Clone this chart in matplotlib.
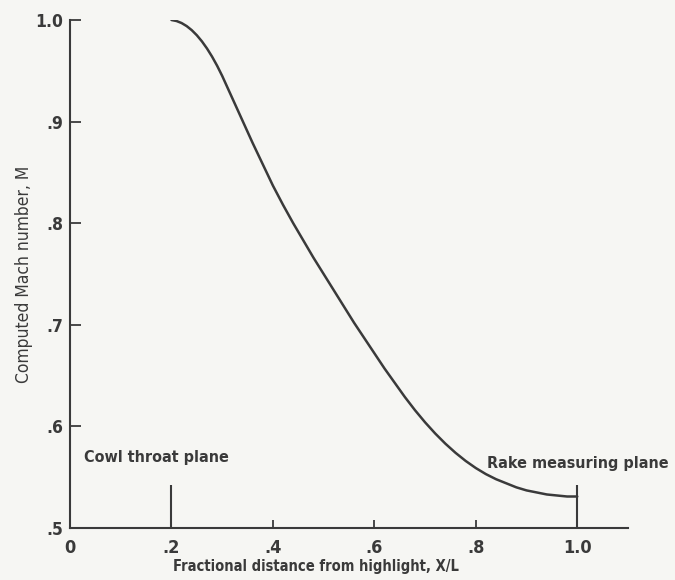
import matplotlib
matplotlib.use('Agg')
import matplotlib.pyplot as plt

# Computed Mach number along the inlet, cowl throat (X/L = .2) to rake plane (X/L = 1.0)
x_over_l = [0.20, 0.21, 0.22, 0.23, 0.24, 0.25, 0.26, 0.27, 0.28, 0.29,
            0.30, 0.32, 0.34, 0.36, 0.38, 0.40, 0.42, 0.44, 0.46, 0.48,
            0.50, 0.52, 0.54, 0.56, 0.58, 0.60, 0.62, 0.64, 0.66, 0.68,
            0.70, 0.72, 0.74, 0.76, 0.78, 0.80, 0.82, 0.84, 0.86, 0.88,
            0.90, 0.92, 0.94, 0.96, 0.98, 1.00]
mach = [1.000, 0.999, 0.997, 0.994, 0.990, 0.985, 0.979, 0.972, 0.964, 0.955,
        0.945, 0.923, 0.901, 0.879, 0.858, 0.837, 0.818, 0.800, 0.783, 0.766,
        0.750, 0.734, 0.718, 0.702, 0.687, 0.672, 0.657, 0.643, 0.629, 0.616,
        0.604, 0.593, 0.583, 0.574, 0.566, 0.559, 0.553, 0.548, 0.544, 0.540,
        0.537, 0.535, 0.533, 0.532, 0.531, 0.531]

# Reference planes marked on the abscissa
plane_x = [0.2, 1.0]
plane_names = ["Cowl throat plane", "Rake measuring plane"]
plane_mark_top = 0.542

x_ticks = [0.0, 0.2, 0.4, 0.6, 0.8, 1.0]
x_tick_labels = ["0", ".2", ".4", ".6", ".8", "1.0"]
y_ticks = [0.5, 0.6, 0.7, 0.8, 0.9, 1.0]
y_tick_labels = [".5", ".6", ".7", ".8", ".9", "1.0"]

INK = '#3a3a3a'
PAPER = '#f6f6f3'

plt.rcParams['font.family'] = ['DejaVu Sans']
plt.rcParams['font.stretch'] = 'condensed'

fig = plt.figure(figsize=(6.75, 5.8), dpi=100, facecolor=PAPER)
ax = fig.add_axes([70 / 675, 1 - 528 / 580, 558 / 675, 508 / 580])
ax.set_facecolor(PAPER)

ax.plot(x_over_l, mach, color=INK, linewidth=1.8, solid_capstyle='round')

# Tall marks at the two reference planes
ax.vlines(plane_x, 0.5, plane_mark_top, color=INK, linewidth=1.5)
ax.text(0.027, 0.569, plane_names[0], fontsize=11.5, color=INK,
        fontweight='bold', ha='left', va='center')
ax.text(0.822, 0.563, plane_names[1], fontsize=11.5, color=INK,
        fontweight='bold', ha='left', va='center')

ax.set_xlim(0, 1.1)
ax.set_ylim(0.5, 1.0)

ax.spines['top'].set_visible(False)
ax.spines['right'].set_visible(False)
for side in ('left', 'bottom'):
    ax.spines[side].set_color(INK)
    ax.spines[side].set_linewidth(1.5)

ax.set_xticks(x_ticks)
ax.set_xticklabels(x_tick_labels)
ax.set_yticks(y_ticks)
ax.set_yticklabels(y_tick_labels)
ax.tick_params(axis='x', direction='in', length=6, width=1.3, color=INK,
               labelcolor=INK, labelsize=13, pad=8)
ax.tick_params(axis='y', direction='in', length=8, width=1.3, color=INK,
               labelcolor=INK, labelsize=12.5, pad=5)
for lbl in ax.get_xticklabels() + ax.get_yticklabels():
    lbl.set_fontweight('bold')

ax.set_xlabel("Fractional distance from highlight, X/L", fontsize=10.5,
              color=INK, fontweight='bold')
ax.xaxis.set_label_coords((316 - 70) / 558, -(567 - 528) / 508)
ax.xaxis.label.set_va('center')
ax.set_ylabel("Computed Mach number, M", fontsize=12.5, color=INK)
ax.yaxis.set_label_coords(-(70 - 24) / 558, 0.5)
ax.yaxis.label.set_va('center')

fig.savefig('out.png', dpi=100, facecolor=PAPER)
